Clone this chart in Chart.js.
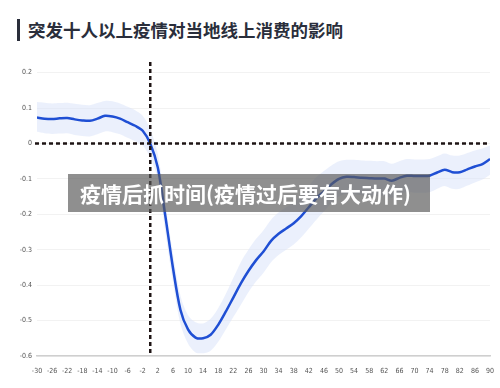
<!DOCTYPE html>
<html>
<head>
<meta charset="utf-8">
<script src="https://cdn.jsdelivr.net/npm/chart.js@4.4.0/dist/chart.umd.min.js"></script>
<style>
  html, body { margin: 0; padding: 0; background: #fff; }
  #wrap { position: relative; width: 500px; height: 388px; overflow: hidden; }
  #title { position: absolute; left: 17px; top: 19px; height: 22px; line-height: 22px;
    font-family: "Noto Sans CJK SC", sans-serif; font-size: 17.5px; font-weight: 700; color: #2a2e3b;
    border-left: 3px solid #2a2e3b; padding-left: 8px; }
  #chart { position: absolute; left: 0; top: 0; }
  #overlay { position: absolute; left: 68px; top: 174px; width: 362px; height: 38px;
    background: rgba(90,90,90,0.68); color: #fff; font-family: "Noto Sans CJK SC", sans-serif;
    font-weight: 700; font-size: 21px; line-height: 38px; padding-left: 12px; box-sizing: border-box;
    white-space: nowrap; }
</style>
</head>
<body>
<div id="wrap">
  <div id="title">突发十人以上疫情对当地线上消费的影响</div>
  <canvas id="chart" width="500" height="388"></canvas>
  <div id="overlay">疫情后抓时间(疫情过后要有大动作)</div>
</div>
<script>
// days relative to outbreak
var days = [-30,-28,-26,-24,-22,-20,-18,-16,-14,-12,-10,-8,-6,-4,-2,0,2,4,6,8,10,12,14,16,18,20,
  22,24,26,28,30,32,34,36,38,40,42,44,46,48,50,52,54,56,58,60,62,64,66,68,70,72,74,76,78,80,82,84,86,88,90];

var effect = [0.073,0.070,0.069,0.071,0.072,0.068,0.065,0.064,0.070,0.078,0.076,0.070,0.060,0.050,0.036,0.000,
  -0.068,-0.205,-0.350,-0.470,-0.525,-0.548,-0.550,-0.540,-0.512,-0.475,-0.435,-0.395,-0.360,-0.330,-0.305,
  -0.275,-0.255,-0.240,-0.225,-0.205,-0.180,-0.155,-0.135,-0.115,-0.100,-0.094,-0.095,-0.097,-0.098,-0.099,
  -0.099,-0.105,-0.097,-0.091,-0.092,-0.092,-0.091,-0.082,-0.074,-0.081,-0.081,-0.073,-0.065,-0.058,-0.044];

var upper = [0.117,0.115,0.113,0.114,0.115,0.112,0.109,0.108,0.114,0.120,0.119,0.113,0.104,0.094,0.078,0.040,
  -0.030,-0.170,-0.310,-0.430,-0.485,-0.505,-0.508,-0.495,-0.465,-0.425,-0.380,-0.335,-0.300,-0.270,-0.245,
  -0.215,-0.195,-0.180,-0.165,-0.145,-0.120,-0.095,-0.078,-0.062,-0.050,-0.046,-0.046,-0.048,-0.049,-0.050,
  -0.050,-0.057,-0.050,-0.044,-0.045,-0.045,-0.044,-0.036,-0.028,-0.034,-0.034,-0.027,-0.020,-0.014,-0.006];

var lower = [0.033,0.029,0.027,0.028,0.029,0.024,0.021,0.020,0.026,0.034,0.032,0.026,0.016,0.006,-0.006,-0.040,
  -0.100,-0.250,-0.390,-0.510,-0.565,-0.590,-0.592,-0.585,-0.560,-0.525,-0.490,-0.455,-0.420,-0.390,-0.365,
  -0.335,-0.315,-0.300,-0.285,-0.265,-0.240,-0.215,-0.192,-0.168,-0.150,-0.142,-0.144,-0.146,-0.147,-0.148,
  -0.148,-0.153,-0.144,-0.138,-0.139,-0.139,-0.138,-0.128,-0.120,-0.128,-0.128,-0.119,-0.110,-0.102,-0.088];

var xTicks = [-30,-26,-22,-18,-14,-10,-6,-2,2,6,10,14,18,22,26,30,34,38,42,46,50,54,58,62,66,70,74,78,82,86,90];
var yTicks = [-0.6,-0.5,-0.4,-0.3,-0.2,-0.1,0,0.1,0.2];

function pts(arr) {
  return days.map(function (d, i) { return { x: d, y: arr[i] }; });
}

// dashed reference lines at x = 0 and y = 0
var zeroLines = {
  id: 'zeroLines',
  afterDatasetsDraw: function (chart) {
    var ctx = chart.ctx, a = chart.chartArea;
    var x0 = chart.scales.x.getPixelForValue(0);
    var y0 = chart.scales.y.getPixelForValue(0);
    ctx.save();
    ctx.strokeStyle = '#1e1414';
    ctx.lineWidth = 2.5;
    ctx.setLineDash([4, 3]);
    ctx.beginPath();
    ctx.moveTo(a.left - 2, y0);
    ctx.lineTo(a.right, y0);
    ctx.moveTo(x0, a.top);
    ctx.lineTo(x0, a.bottom);
    ctx.stroke();
    ctx.restore();
  }
};

var tickFont = { family: '"DejaVu Sans Condensed", "DejaVu Sans", sans-serif', size: 7 };

new Chart(document.getElementById('chart'), {
  type: 'line',
  data: {
    datasets: [{
      data: pts(lower),
      order: 2,
      borderWidth: 0,
      pointRadius: 0,
      fill: false,
      tension: 0.3
    }, {
      data: pts(upper),
      order: 1,
      borderWidth: 0,
      pointRadius: 0,
      backgroundColor: 'rgba(215,225,250,0.5)',
      fill: '-1',
      tension: 0.3
    }, {
      data: pts(effect),
      order: 0,
      borderColor: '#1f4fd4',
      borderWidth: 2.5,
      pointRadius: 0,
      fill: false,
      tension: 0.3
    }]
  },
  options: {
    responsive: false,
    animation: false,
    layout: { padding: { top: 62, right: 10, left: 0, bottom: 0 } },
    plugins: { legend: { display: false }, tooltip: { enabled: false } },
    scales: {
      x: {
        type: 'linear',
        min: -30,
        max: 90,
        afterBuildTicks: function (axis) {
          axis.ticks = xTicks.map(function (v) { return { value: v }; });
        },
        afterFit: function (axis) { axis.height = 32; },
        grid: { display: false },
        border: { color: '#cfcfcf', width: 1.5 },
        ticks: { font: tickFont, color: '#555', padding: 3, maxRotation: 0, autoSkip: false }
      },
      y: {
        min: -0.6,
        max: 0.23,
        afterBuildTicks: function (axis) {
          axis.ticks = yTicks.map(function (v) { return { value: v }; });
        },
        afterFit: function (axis) { axis.width = 37; },
        grid: { color: '#f2f2f2', drawTicks: false },
        border: { display: false },
        ticks: {
          font: tickFont, color: '#555', padding: 5,
          callback: function (v) { return String(Math.round(v * 10) / 10); }
        }
      }
    }
  },
  plugins: [zeroLines]
});
</script>
</body>
</html>
